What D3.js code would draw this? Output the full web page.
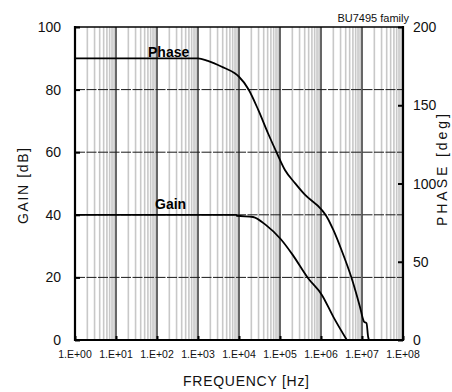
<!DOCTYPE html>
<html>
<head>
<meta charset="utf-8">
<script src="https://cdn.jsdelivr.net/npm/d3@7"></script>
<style>
  html, body { margin: 0; padding: 0; background: #fff; }
  svg { display: block; font-family: "Liberation Sans", Arial, sans-serif; }
</style>
</head>
<body>
<svg id="chart" width="452" height="392"></svg>
<script>
// Open-loop frequency response, BU7495 family
const gainFreq = [1, 8.5e3, 8.9e3, 2.2e4, 4.57e4, 1.05e5, 2.04e5, 4.8e5, 1.05e6, 2.0e6, 4.27e6];
const gainDb   = [40, 40, 39.7, 39.3, 36.7, 32.2, 27.2, 19.8, 14.4, 7.4, 0];

const phaseFreq = [1, 1e3, 1.74e3, 3.8e3, 7.9e3, 1.0e4, 1.7e4, 2.95e4, 5.1e4, 8.3e4, 1.32e5,
                   2.35e5, 4.1e5, 1.05e6, 1.38e6, 2.0e6, 3.16e6, 5.6e6, 8.9e6, 1.12e7, 1.29e7, 1.41e7, 1.48e7];
const phaseDeg  = [180, 180, 178.3, 174.6, 170.4, 168.2, 160.2, 147.0, 132.1, 119.7, 108.6,
                   100.1, 92.7, 83.1, 78.8, 70.3, 57.5, 39.4, 21.3, 11.7, 10.7, 2.1, 0];

const freqTicks  = [1e0, 1e1, 1e2, 1e3, 1e4, 1e5, 1e6, 1e7, 1e8];
const freqLabels = ["1.E+00", "1.E+01", "1.E+02", "1.E+03", "1.E+04", "1.E+05", "1.E+06", "1.E+07", "1.E+08"];
const gainTicks  = [0, 20, 40, 60, 80, 100];
const phaseTicks = [0, 50, 100, 150, 200];

const L = 75, R = 403, T = 27, B = 340;
const svg = d3.select("#chart");

const x  = d3.scaleLog().domain([1, 1e8]).range([L, R]);
const yG = d3.scaleLinear().domain([0, 100]).range([B, T]);
const yP = d3.scaleLinear().domain([0, 200]).range([B, T]);

// minor grid: 2..9 within each decade
const minor = [];
for (let d = 0; d < 8; d++) for (let m = 2; m <= 9; m++) minor.push(m * Math.pow(10, d));
svg.append("g").selectAll("line").data(minor).join("line")
  .attr("x1", d => x(d)).attr("x2", d => x(d))
  .attr("y1", T).attr("y2", B)
  .attr("stroke", "#c8c8c8").attr("stroke-width", 1.6);

// major decade grid
svg.append("g").selectAll("line").data(freqTicks.slice(1, -1)).join("line")
  .attr("x1", d => x(d)).attr("x2", d => x(d))
  .attr("y1", T).attr("y2", B)
  .attr("stroke", "#000").attr("stroke-width", 1.2);

// horizontal grid
svg.append("g").selectAll("line").data(gainTicks.slice(1, -1)).join("line")
  .attr("x1", L).attr("x2", R)
  .attr("y1", d => yG(d)).attr("y2", d => yG(d))
  .attr("stroke", "#1a1a1a").attr("stroke-width", 1)
  .attr("stroke-dasharray", "10,1.5");

// curves
const line = (fs, vs, ys) => d3.line().curve(d3.curveMonotoneX)
  .x((d, i) => x(fs[i])).y((d, i) => ys(vs[i]))(fs);
svg.append("path").attr("d", line(gainFreq, gainDb, yG))
  .attr("fill", "none").attr("stroke", "#000").attr("stroke-width", 1.8);
svg.append("path").attr("d", line(phaseFreq, phaseDeg, yP))
  .attr("fill", "none").attr("stroke", "#000").attr("stroke-width", 1.8);

// frame
const frame = svg.append("g").attr("stroke", "#000");
frame.append("line").attr("x1", L).attr("x2", R).attr("y1", T).attr("y2", T).attr("stroke-width", 1.5);
frame.append("line").attr("x1", L).attr("x2", L).attr("y1", T - 1).attr("y2", B + 1).attr("stroke-width", 2.2);
frame.append("line").attr("x1", R).attr("x2", R).attr("y1", T - 1).attr("y2", B + 1).attr("stroke-width", 2.2);
frame.append("line").attr("x1", L - 1).attr("x2", R + 1).attr("y1", B).attr("y2", B).attr("stroke-width", 2.2);

// axes (ticks inward)
const axL = svg.append("g").attr("transform", `translate(${L},0)`)
  .call(d3.axisRight(yG).tickValues(gainTicks).tickSize(5).tickFormat(""));
const axR = svg.append("g").attr("transform", `translate(${R},0)`)
  .call(d3.axisLeft(yP).tickValues(phaseTicks).tickSize(5).tickFormat(""));
const axB = svg.append("g").attr("transform", `translate(0,${B})`)
  .call(d3.axisTop(x).tickValues(freqTicks).tickSize(4).tickFormat(""));
[axL, axR, axB].forEach(a => {
  a.select(".domain").remove();
  a.selectAll(".tick line").attr("stroke", "#000").attr("stroke-width", 2);
});

// tick labels
svg.append("g").selectAll("text").data(gainTicks).join("text")
  .attr("x", 61).attr("y", d => yG(d)).attr("dy", "0.36em")
  .attr("text-anchor", "end").attr("font-size", 14).attr("fill", "#111")
  .text(d => d);
svg.append("g").selectAll("text").data(phaseTicks).join("text")
  .attr("x", 413).attr("y", d => yP(d)).attr("dy", "0.36em")
  .attr("text-anchor", "start").attr("font-size", 14).attr("fill", "#111")
  .text(d => d);
svg.append("g").selectAll("text").data(freqTicks).join("text")
  .attr("x", d => x(d)).attr("y", 358)
  .attr("text-anchor", "middle").attr("font-size", 10.5).attr("fill", "#111")
  .text((d, i) => freqLabels[i]);

// axis titles
svg.append("text").attr("x", 246).attr("y", 386)
  .attr("text-anchor", "middle").attr("font-size", 14).attr("fill", "#111")
  .attr("textLength", 126).attr("lengthAdjust", "spacing")
  .text("FREQUENCY [Hz]");
svg.append("text").attr("transform", "translate(28,186) rotate(-90)")
  .attr("text-anchor", "middle").attr("font-size", 14).attr("fill", "#111")
  .attr("textLength", 76).attr("lengthAdjust", "spacing")
  .text("GAIN [dB]");
svg.append("text").attr("transform", "translate(447,170) rotate(-90)")
  .attr("text-anchor", "middle").attr("font-size", 14).attr("fill", "#111")
  .attr("textLength", 112).attr("lengthAdjust", "spacing")
  .text("PHASE [deg]");

// series labels and caption
svg.append("text").attr("x", 148).attr("y", 57)
  .attr("font-size", 14).attr("font-weight", "bold").attr("fill", "#000")
  .text("Phase");
svg.append("text").attr("x", 155).attr("y", 209)
  .attr("font-size", 14).attr("font-weight", "bold").attr("fill", "#000")
  .text("Gain");
svg.append("text").attr("x", 409).attr("y", 22)
  .attr("text-anchor", "end").attr("font-size", 11).attr("fill", "#111")
  .text("BU7495 family");
</script>
</body>
</html>
